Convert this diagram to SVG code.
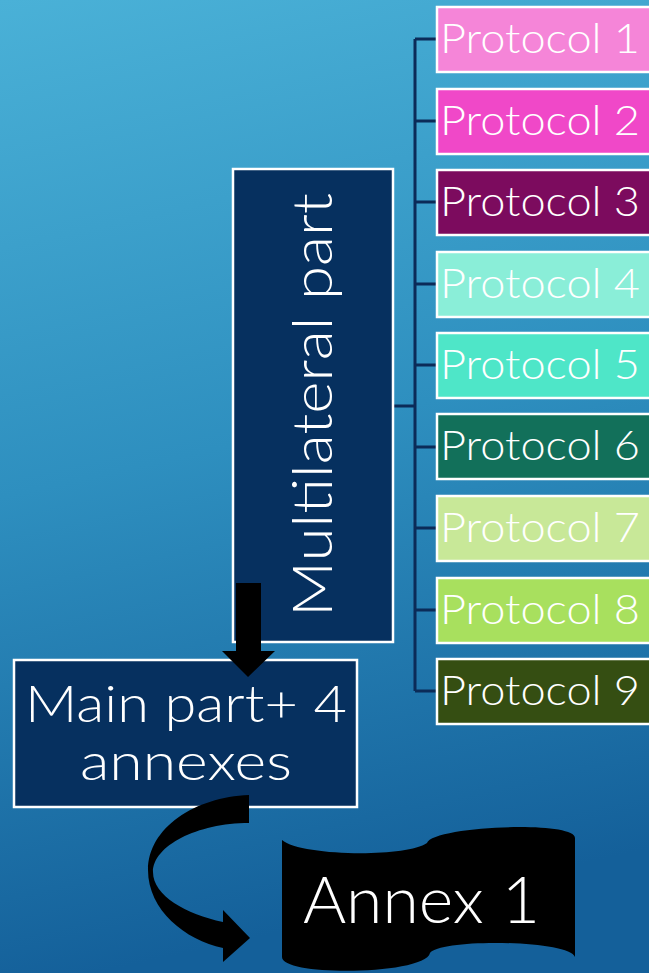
<svg xmlns="http://www.w3.org/2000/svg" width="649" height="973" viewBox="0 0 649 973">
  <defs>
    <linearGradient id="bg" x1="0" y1="0" x2="0.15" y2="1">
      <stop offset="0" stop-color="#4ab1d7"/>
      <stop offset="0.5" stop-color="#2e8fbf"/>
      <stop offset="1" stop-color="#14609a"/>
    </linearGradient>
  </defs>
  <style>
    .box { stroke: #ffffff; stroke-width: 2.5; }
    .navy { fill: #06305f; }
    .lbl { fill: #ffffff; font-family: Lato, "Liberation Sans", Arial, sans-serif; font-weight: 300; }
    .proto { font-size: 42px; }
    .wire { stroke: #0b2b58; stroke-width: 3; fill: none; }
    .blk { fill: #000000; }
  </style>

  <rect x="0" y="0" width="649" height="973" fill="url(#bg)"/>

  <!-- connectors -->
  <g id="connectors">
    <path class="wire" d="M394 406 H415 M415 39 V691 M415 39 H437 M415 121 H437 M415 202 H437 M415 284 H437 M415 365 H437 M415 447 H437 M415 528 H437 M415 610 H437 M415 691 H437"/>
  </g>

  <!-- protocol nodes -->
  <g id="protocol-1"><rect class="box" x="437" y="7" width="220" height="65" fill="#f585d8"/><text class="lbl proto" x="440" y="53" textLength="200" lengthAdjust="spacingAndGlyphs">Protocol 1</text></g>
  <g id="protocol-2"><rect class="box" x="437" y="89" width="220" height="65" fill="#f048c8"/><text class="lbl proto" x="440" y="135" textLength="200" lengthAdjust="spacingAndGlyphs">Protocol 2</text></g>
  <g id="protocol-3"><rect class="box" x="437" y="170" width="220" height="65" fill="#7c0b5e"/><text class="lbl proto" x="440" y="216" textLength="200" lengthAdjust="spacingAndGlyphs">Protocol 3</text></g>
  <g id="protocol-4"><rect class="box" x="437" y="252" width="220" height="65" fill="#8aeed8"/><text class="lbl proto" x="440" y="298" textLength="200" lengthAdjust="spacingAndGlyphs">Protocol 4</text></g>
  <g id="protocol-5"><rect class="box" x="437" y="333" width="220" height="65" fill="#4ee6c8"/><text class="lbl proto" x="440" y="379" textLength="200" lengthAdjust="spacingAndGlyphs">Protocol 5</text></g>
  <g id="protocol-6"><rect class="box" x="437" y="414" width="220" height="65" fill="#12705a"/><text class="lbl proto" x="440" y="460" textLength="200" lengthAdjust="spacingAndGlyphs">Protocol 6</text></g>
  <g id="protocol-7"><rect class="box" x="437" y="496" width="220" height="65" fill="#c8e898"/><text class="lbl proto" x="440" y="542" textLength="200" lengthAdjust="spacingAndGlyphs">Protocol 7</text></g>
  <g id="protocol-8"><rect class="box" x="437" y="578" width="220" height="65" fill="#a8e05e"/><text class="lbl proto" x="440" y="624" textLength="200" lengthAdjust="spacingAndGlyphs">Protocol 8</text></g>
  <g id="protocol-9"><rect class="box" x="437" y="659" width="220" height="65" fill="#354e12"/><text class="lbl proto" x="440" y="705" textLength="200" lengthAdjust="spacingAndGlyphs">Protocol 9</text></g>

  <!-- multilateral part (vertical label) -->
  <g id="multilateral">
    <rect class="box navy" x="233" y="169" width="160" height="473"/>
    <text class="lbl" font-size="56" transform="translate(332 617) rotate(-90)" x="0" y="0" textLength="424" lengthAdjust="spacingAndGlyphs">Multilateral part</text>
  </g>

  <!-- main part -->
  <g id="main-part">
    <rect class="box navy" x="14" y="660" width="343" height="147"/>
    <text class="lbl" font-size="52" x="25" y="722" textLength="322" lengthAdjust="spacingAndGlyphs">Main part+ 4</text>
    <text class="lbl" font-size="52" x="80" y="780" textLength="212" lengthAdjust="spacingAndGlyphs">annexes</text>
  </g>

  <!-- arrows -->
  <g id="arrows">
    <polygon class="blk" points="236,583 261,583 261,651 275,651 248,677 222,651 236,651"/>
    <path class="blk" d="M249 795 C195 797 148 828 148 870 C148 910 185 940 223 948 L223 962 L250 938 L223 910 L223 922 C186 914 153 896 153 872 C153 846 197 823 249 823 Z"/>
  </g>

  <!-- annex 1 (punched tape shape) -->
  <g id="annex-1">
    <path class="blk" d="M282 840 C300 856 405 858 427 843 C432 826 575 820 575 838 L575 957 C570 940 440 938 430 953 C425 975 282 977 282 957 Z"/>
    <text class="lbl" font-size="65" x="303" y="923" textLength="237" lengthAdjust="spacingAndGlyphs">Annex 1</text>
  </g>
</svg>
